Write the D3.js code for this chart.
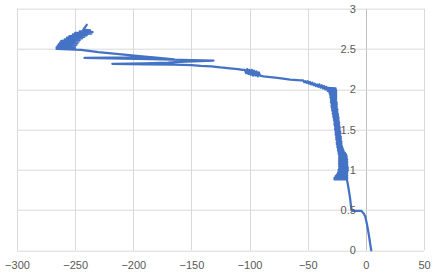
<!DOCTYPE html>
<html>
<head>
<meta charset="utf-8">
<script src="https://cdn.jsdelivr.net/npm/d3@7"></script>
<style>
  body { margin: 0; background: #fff; }
  text { font-family: 'Liberation Sans', Arial, sans-serif; font-size: 11px; fill: #595959; }
</style>
</head>
<body>
<div id="main"></div>
<script>
// --- data, in drawing order (bottom -> top-left)
// lower part, near x = 0
const lowerX = [4.6, 3.5, 2.5, 1.0, -0.5, -2, -4, -12, -12.8, -13.5, -15, -16.3];
const lowerY = [0.00, 0.10, 0.20, 0.32, 0.42, 0.46, 0.49, 0.49, 0.55, 0.64, 0.78, 0.88];

// the dense vertical band (x wobbles back and forth)
const bandX = [
  -27, -16, -27, -16, -26, -16, -25, -16, -24, -16,
  -23.5, -15.5, -23.5, -15.5, -23, -15.5, -23, -16, -23, -16,
  -23, -16, -23, -16, -23, -16, -23, -16.5, -23, -16.5,
  -23, -17, -23.5, -18, -23.5, -19, -24, -19.5, -24, -20,
  -24.5, -20.5, -24.5, -21, -25, -21, -25, -21, -25, -21.5,
  -25.5, -21.5, -25.5, -21.5, -25.5, -22, -26, -22, -26, -22,
  -26, -22.5, -26.5, -22.5, -26.5, -22.5, -26.5, -23, -27, -23,
  -27, -23, -27, -23.5, -27.5, -23.5, -27.5, -23.5, -28, -24,
  -28, -24, -28.5, -24.5, -28.5, -24.5, -29, -24.5, -29, -25,
  -29.5, -25, -29.5, -25, -29.5, -25, -30, -25.5, -30, -25.5,
  -30, -25.5, -30.5, -25.5, -30.5, -25.5, -31, -25.5, -31.5, -25.5,
  -33, -25.5, -34, -26, -36
];
const bandY = [
  0.88, 0.89, 0.90, 0.91, 0.92, 0.93, 0.94, 0.95, 0.96, 0.97,
  0.98, 0.99, 1.00, 1.01, 1.02, 1.03, 1.04, 1.05, 1.06, 1.07,
  1.08, 1.09, 1.10, 1.11, 1.12, 1.13, 1.14, 1.15, 1.16, 1.17,
  1.18, 1.19, 1.20, 1.21, 1.22, 1.23, 1.24, 1.25, 1.26, 1.27,
  1.28, 1.29, 1.30, 1.31, 1.32, 1.33, 1.34, 1.35, 1.36, 1.37,
  1.38, 1.39, 1.40, 1.41, 1.42, 1.43, 1.44, 1.45, 1.46, 1.47,
  1.48, 1.49, 1.50, 1.51, 1.52, 1.53, 1.54, 1.55, 1.56, 1.57,
  1.58, 1.59, 1.60, 1.61, 1.62, 1.63, 1.64, 1.65, 1.66, 1.67,
  1.68, 1.69, 1.70, 1.71, 1.72, 1.73, 1.74, 1.75, 1.76, 1.77,
  1.78, 1.79, 1.80, 1.81, 1.82, 1.83, 1.84, 1.85, 1.86, 1.87,
  1.88, 1.89, 1.90, 1.91, 1.92, 1.93, 1.94, 1.95, 1.96, 1.97,
  1.98, 1.99, 2.00, 2.01, 2.02
];

// the bend, the blob near -100 and the long leftward curve
const curveX = [-33, -34, -35, -36, -37, -38, -39, -40, -41, -42, -43, -44, -45, -46, -47, -48, -49, -50, -51, -52, -53, -54, -56,
  -65, -76, -88,
  -91, -92, -93, -94, -95, -96, -97, -98, -99, -100, -101, -102, -103, -104, -106,
  -110, -117, -125, -133, -142, -150];
const curveY = [2.00, 2.03, 2.00, 2.04, 2.01, 2.05, 2.02, 2.06, 2.03, 2.06, 2.04, 2.07, 2.05, 2.08, 2.06, 2.09, 2.07, 2.10, 2.08, 2.10, 2.09, 2.11, 2.11,
  2.12, 2.14, 2.16,
  2.17, 2.21, 2.16, 2.22, 2.17, 2.23, 2.17, 2.24, 2.18, 2.24, 2.19, 2.25, 2.20, 2.24, 2.24,
  2.25, 2.26, 2.27, 2.285, 2.29, 2.30];

// horizontal spikes between -250 and -130 (out and back)
const spikeX = [-165, -190, -218, -190, -170, -160, -131, -150, -175, -242, -200, -172, -165, -178, -190, -208, -230, -245];
const spikeY = [2.305, 2.31, 2.315, 2.322, 2.33, 2.34, 2.355, 2.36, 2.37, 2.39, 2.395, 2.38, 2.37, 2.39, 2.405, 2.43, 2.46, 2.49];

// the blob at the top-left end
const tipX = [-266, -250, -266, -250, -265, -249, -264, -248, -263, -247, -262, -246, -259,
  -244, -257, -242, -255, -240, -252, -236, -250, -235, -246, -237, -243, -240];
const tipY = [2.50, 2.51, 2.52, 2.53, 2.54, 2.55, 2.56, 2.57, 2.58, 2.59, 2.60, 2.61, 2.62,
  2.63, 2.64, 2.65, 2.66, 2.67, 2.68, 2.69, 2.70, 2.71, 2.72, 2.73, 2.74, 2.80];

const xTicks = [-300, -250, -200, -150, -100, -50, 0, 50];
const yTicks = [0, 0.5, 1, 1.5, 2, 2.5, 3];

const xValues = [].concat(lowerX, bandX, curveX, spikeX, tipX);
const yValues = [].concat(lowerY, bandY, curveY, spikeY, tipY);

// --- layout
const svgWidth = 435;
const svgHeight = 278;
const margin = { top: 8.7, right: 11, bottom: 27.7, left: 17 };
const chartWidth = svgWidth - margin.left - margin.right;
const chartHeight = svgHeight - margin.top - margin.bottom;

const svg = d3.select('#main')
  .append('svg')
  .attr('width', svgWidth)
  .attr('height', svgHeight);

const g = svg.append('g')
  .attr('transform', `translate(${margin.left}, ${margin.top})`);

const xScale = d3.scaleLinear().domain([-300, 50]).range([0, chartWidth]);
const yScale = d3.scaleLinear().domain([0, 3]).range([chartHeight, 0]);

// gridlines
g.append('g')
  .selectAll('line')
  .data(xTicks)
  .enter()
  .append('line')
  .attr('x1', d => Math.round(xScale(d)) + 0.5)
  .attr('x2', d => Math.round(xScale(d)) + 0.5)
  .attr('y1', 0)
  .attr('y2', chartHeight)
  .attr('stroke', d => d === 0 ? '#bfbfbf' : '#d9d9d9')
  .attr('stroke-width', 1);

g.append('g')
  .selectAll('line')
  .data(yTicks)
  .enter()
  .append('line')
  .attr('x1', 0)
  .attr('x2', chartWidth)
  .attr('y1', d => Math.round(yScale(d)) + 0.5)
  .attr('y2', d => Math.round(yScale(d)) + 0.5)
  .attr('stroke', '#d9d9d9')
  .attr('stroke-width', 1);

// the trace
const points = xValues.map((x, i) => [x, yValues[i]]);
const line = d3.line()
  .x(d => xScale(d[0]))
  .y(d => yScale(d[1]));

g.append('path')
  .datum(points)
  .attr('fill', 'none')
  .attr('stroke', '#4472c4')
  .attr('stroke-width', 2.25)
  .attr('stroke-linejoin', 'round')
  .attr('stroke-linecap', 'round')
  .attr('d', line);

// x axis labels at the bottom
const xAxis = g.append('g')
  .attr('transform', `translate(0, ${chartHeight})`)
  .call(d3.axisBottom(xScale).tickValues(xTicks).tickSize(0).tickPadding(11));
xAxis.select('.domain').remove();

// y axis labels sit next to x = 0
const yAxis = g.append('g')
  .attr('transform', `translate(${xScale(0)}, 0)`)
  .call(d3.axisLeft(yScale).tickValues(yTicks).tickSize(0).tickPadding(10).tickFormat(d3.format('')));
yAxis.select('.domain').remove();

svg.selectAll('.tick text')
  .style('font-family', "'Liberation Sans', Arial, sans-serif")
  .style('font-size', '11px')
  .style('fill', '#595959');
</script>
</body>
</html>
